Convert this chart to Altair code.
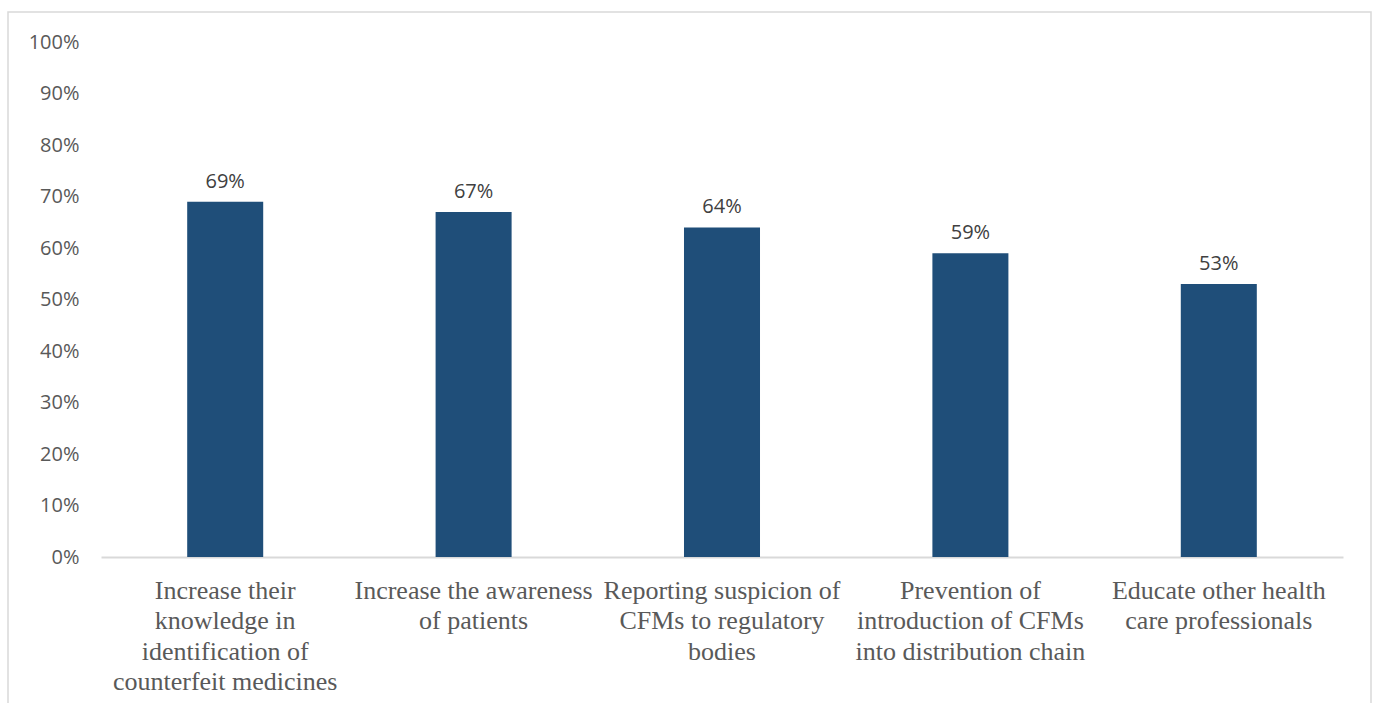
import altair as alt
import pandas as pd

# Survey: perceived roles in fighting counterfeit medicines (CFMs)
categories = [
    "Increase their\nknowledge in\nidentification of\ncounterfeit medicines",
    "Increase the awareness\nof patients",
    "Reporting suspicion of\nCFMs to regulatory\nbodies",
    "Prevention of\nintroduction of CFMs\ninto distribution chain",
    "Educate other health\ncare professionals",
]
shares = [0.69, 0.67, 0.64, 0.59, 0.53]

df = pd.DataFrame({"role": categories, "share": shares})

BAR = "#1f4e79"
AXIS_TEXT = "#595959"
LABEL_TEXT = "#404040"
GRID = "#d9d9d9"

x_enc = alt.X(
    "role:N",
    sort=None,
    title=None,
    scale=alt.Scale(paddingInner=0.694, paddingOuter=0.347),
    axis=alt.Axis(
        labelAngle=0,
        labelExpr="split(datum.label, '\\n')",
        labelFont="Liberation Serif",
        labelFontSize=26,
        labelLineHeight=30.5,
        labelColor=AXIS_TEXT,
        labelPadding=20,
        labelBaseline="top",
        labelLimit=400,
        ticks=False,
        domainColor=GRID,
        domainWidth=2,
    ),
)

y_enc = alt.Y(
    "share:Q",
    title=None,
    scale=alt.Scale(domain=[0, 1]),
    axis=alt.Axis(
        format=".0%",
        values=[i / 10 for i in range(11)],
        grid=False,
        ticks=False,
        domain=False,
        labelFont="Open Sans",
        labelFontSize=20,
        labelColor=AXIS_TEXT,
        labelPadding=22,
    ),
)

base = alt.Chart(df)

bars = base.mark_bar(color=BAR).encode(x=x_enc, y=y_enc)

values = base.mark_text(
    font="Open Sans",
    fontSize=20,
    color=LABEL_TEXT,
    baseline="alphabetic",
    dy=-14,
).encode(x=alt.X("role:N", sort=None), y="share:Q", text=alt.Text("share:Q", format=".0%"))

# light outer frame around the whole figure
frame = alt.Chart(pd.DataFrame({"k": [0]})).mark_rect(
    fillOpacity=0, stroke=GRID, strokeWidth=1.5
).encode(
    x=alt.value(-93), x2=alt.value(1270), y=alt.value(-30), y2=alt.value(700)
)

chart = (
    alt.layer(frame, bars, values)
    .properties(
        width=1242,
        height=515,
        padding={"left": 7, "top": 11, "right": 0, "bottom": 0},
        background="white",
    )
    .configure_view(strokeWidth=0)
)

chart.save("out.html", embed_options={"renderer": "svg", "actions": False})
